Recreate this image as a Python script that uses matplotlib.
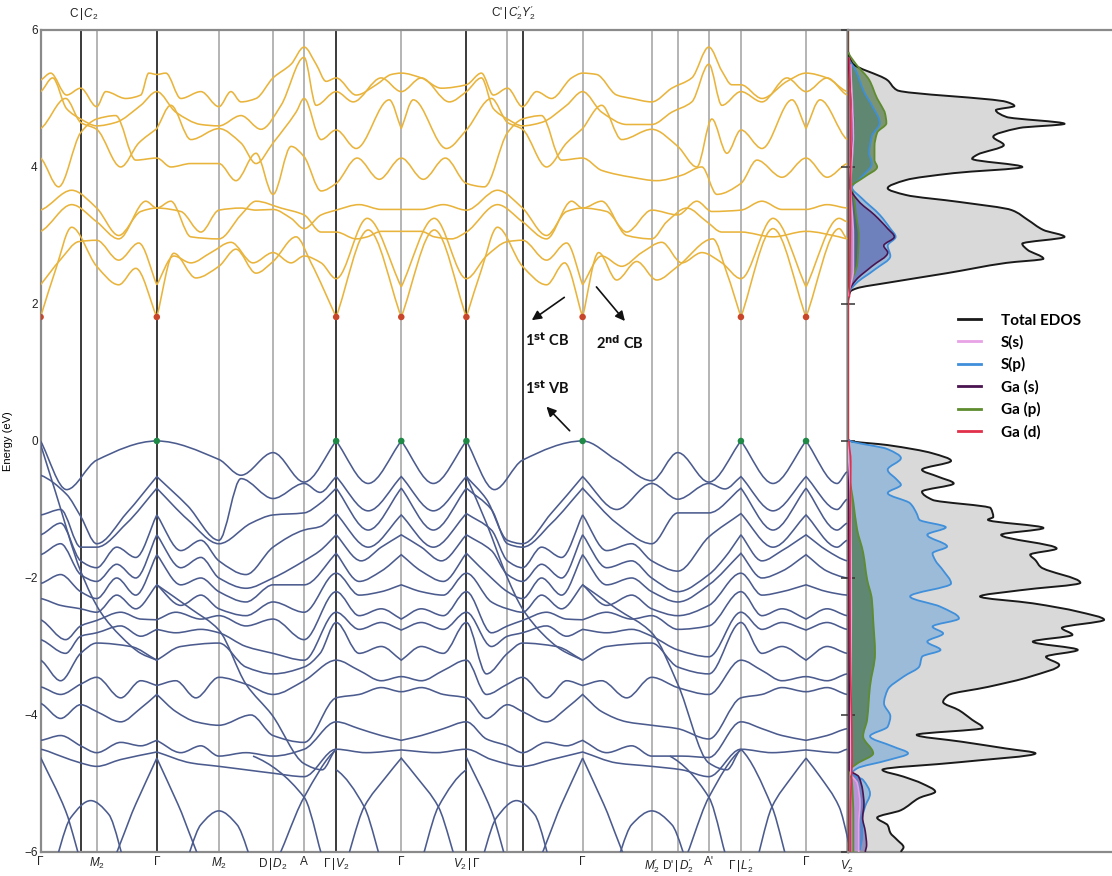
import numpy as np
import matplotlib
matplotlib.use("Agg")
import matplotlib.pyplot as plt
from matplotlib.path import Path
from matplotlib.patches import PathPatch
from matplotlib.lines import Line2D

plt.rcParams['font.family'] = ['Liberation Sans', 'DejaVu Sans']
plt.rcParams['mathtext.fontset'] = 'custom'
plt.rcParams['mathtext.rm'] = 'Liberation Sans'
plt.rcParams['mathtext.it'] = 'Liberation Sans:italic'

# k-path (arbitrary distance units) and high-symmetry labels
tick_k = [0, 40, 56, 116, 178, 232, 263, 295, 360, 425, 466, 481, 541, 610, 636, 667, 699, 764, 805]
dark_lines = [40, 116, 295, 425, 481]
bottom_labels = {0: 'Γ', 56: '$M_2$', 116: 'Γ', 178: '$M_2$', 232: 'D$\\,|\\,D_2$', 263: 'A',
                 295: 'Γ$\\,|\\,V_2$', 360: 'Γ', 425: '$V_2\\,|\\,$Γ', 541: 'Γ', 610: "$M_2'$",
                 636: "D'$\\,|\\,D_2'$", 667: "A'", 699: "Γ$\\,|\\,L_2'$", 764: 'Γ', 805: "$V_2'$"}
top_labels = {43: 'C$\\,|\\,C_2$', 472: "C'$\\,|\\,C_2'$$Y_2'$"}

cbm_k = [0, 116, 295, 360, 425, 541, 699, 764]
vbm_k = [116, 295, 360, 425, 541, 699, 764]
cbm_e = 1.81
vbm_e = 0.0

# conduction bands: (k, E) key points, third entry 1 marks a kink
cb_bands = [
    [(0,1.81,1),(15,2.5),(31,3.12),(56,2.55),(78,2.28),(95,2.52),(116,1.81,1),(133,2.74),(155,2.38),(178,2.55),(195,2.8),(215,2.45),(232,2.62),(255,2.98),(270,2.6),(295,1.81,1),(327,3.08),(360,1.81,1),(393,3.08),(425,1.81,1),(440,2.5),(456,3.12),(481,2.55),(505,2.28),(523,2.6),(541,1.81,1),(557,2.75),(575,2.35),(595,2.62),(615,2.35),(636,2.55),(671,2.95),(685,2.45),(699,1.81,1),(731,3.1),(764,1.81,1),(797,3.1),(805,2.95)],
    [(0,2.28,1),(20,2.65),(38,2.91),(56,2.93),(78,2.64),(98,2.89),(116,2.28,1),(133,2.7),(150,2.6),(170,2.75),(190,2.9),(212,2.6),(232,2.75),(250,2.6),(263,2.7),(280,2.6),(295,2.37),(326,3.25),(360,2.25,1),(393,3.25),(425,2.37),(445,2.7),(466,2.91),(481,2.93),(505,2.64),(525,2.89),(541,2.28,1),(560,2.7),(580,2.55),(600,2.75),(620,2.9),(640,2.6),(660,2.75),(680,2.6),(699,2.37),(731,3.25),(764,2.25,1),(797,3.25),(805,3.2)],
    [(0,3.06),(31,3.45),(56,3.2),(78,2.95),(105,3.5),(116,3.4),(130,3.5),(150,2.98),(178,2.95),(200,3.3),(215,3.5),(240,3.4),(263,3.3),(280,3.05),(295,3.05),(315,2.95),(326,2.98),(340,3.06),(360,3.06),(380,3.06),(393,2.98),(410,2.95),(425,3.05),(456,3.45),(481,3.2),(505,2.95),(530,3.5),(541,3.4),(560,3.5),(585,3.0),(610,2.95),(625,3.2),(645,3.4),(665,3.2),(680,3.05),(699,3.05),(731,2.98),(764,3.06),(797,2.98),(805,2.95)],
    [(0,3.37),(31,3.66),(56,3.4),(78,3.0),(100,3.35),(116,3.4),(140,3.35),(160,3.05),(178,3.37),(200,3.4),(215,3.37),(232,3.38),(250,3.25),(263,3.1),(280,3.3),(295,3.37),(318,3.45),(340,3.38),(360,3.38),(380,3.38),(402,3.45),(425,3.37),(456,3.66),(481,3.4),(505,3.0),(525,3.35),(541,3.4),(565,3.35),(585,3.05),(610,3.37),(636,3.3),(655,3.5),(670,3.35),(699,3.37),(720,3.5),(740,3.38),(764,3.38),(785,3.45),(805,3.4)],
    [(0,4.13),(18,3.71),(40,4.5),(56,4.7),(75,4.75),(95,4.1),(116,4.13),(130,4.0),(150,4.05),(178,4.05),(195,3.8),(215,4.2),(232,3.6),(250,4.3),(263,4.15),(280,3.65),(295,3.76),(316,4.13),(338,3.82),(360,4.13),(382,3.82),(404,4.13),(425,3.76),(443,3.71),(466,4.5),(481,4.7),(500,4.75),(520,4.1),(541,4.13),(560,3.95),(590,3.85),(615,3.8),(640,3.88),(660,4.0),(675,3.6),(699,3.76),(715,4.1),(740,3.85),(764,4.13),(785,3.85),(805,4.05)],
    [(0,4.56),(25,5.0),(40,4.65),(56,4.55),(80,4.0),(98,4.35),(116,4.56,1),(130,4.9),(150,4.4),(178,4.56),(200,4.35),(215,4.05),(232,4.35),(255,4.8),(263,5.0),(280,4.4),(295,4.54),(315,4.27),(348,4.98),(360,4.56,1),(372,4.98),(405,4.27),(425,4.54),(450,5.0),(466,4.65),(481,4.55),(505,4.0),(525,4.35),(541,4.56,1),(560,4.9),(580,4.4),(610,4.55),(636,4.3),(655,4.0),(670,4.7),(685,4.2),(699,4.54),(720,4.27),(750,4.98),(764,4.56,1),(778,4.98),(805,4.4)],
    [(0,5.1),(12,5.3),(26,4.85),(40,4.7),(56,4.6),(75,4.65),(100,4.9),(116,5.1),(135,4.8),(160,4.62),(178,4.6),(200,4.75),(220,4.55),(240,4.9),(263,5.6),(275,4.9),(295,5.1),(312,4.95),(340,5.3),(360,5.1),(380,5.3),(408,4.95),(425,5.1),(440,5.3),(452,4.85),(466,4.7),(481,4.6),(500,4.65),(525,4.9),(541,5.1),(560,4.8),(585,4.62),(610,4.62),(630,4.8),(650,4.95),(667,5.5),(680,4.9),(699,5.1),(720,4.95),(745,5.3),(764,5.1),(785,5.3),(805,5.05)],
    [(0,5.27),(10,5.37),(26,5.05),(40,5.15),(56,4.88),(65,5.1),(85,5.0),(100,5.05),(108,5.37),(116,5.35),(125,5.37),(140,5.0),(160,5.1),(178,4.88),(190,5.1),(200,4.95),(215,5.0),(232,5.3),(250,5.5),(263,5.75),(275,5.5),(285,5.25),(295,5.3),(315,5.05),(335,5.2),(350,5.35),(360,5.37),(380,5.3),(400,5.15),(425,5.2),(440,5.37),(452,5.05),(466,5.15),(481,4.88),(495,5.1),(510,5.0),(530,5.3),(541,5.37),(555,5.35),(575,5.05),(590,5.0),(610,4.95),(630,5.15),(650,5.3),(667,5.75),(680,5.4),(690,5.2),(699,5.2),(720,5.0),(745,5.25),(764,5.37),(785,5.3),(805,5.1)],
]

# valence bands
vb_bands = [
    [(0,0,1),(26,-0.71),(56,-0.28),(116,0),(178,-0.27),(200,-0.5),(232,-0.17),(263,-0.6),(295,0,1),(327,-0.62),(360,0,1),(392,-0.62),(425,0,1),(453,-0.71),(481,-0.28),(541,0),(575,-0.28),(610,-0.58),(636,-0.17),(667,-0.6),(699,0,1),(731,-0.62),(764,0,1),(795,-0.62),(805,-0.45)],
    [(0,-0.5),(26,-0.78),(40,-1.1),(56,-1.5),(86,-1.05),(116,-0.52,1),(147,-0.95),(178,-1.45),(200,-0.55),(232,-0.84),(263,-0.62),(279,-0.75),(295,-0.52,1),(327,-1.02),(360,-0.52,1),(392,-1.02),(425,-0.52,1),(445,-0.85),(466,-1.45),(481,-1.5),(510,-1.05),(541,-0.52,1),(575,-1.0),(610,-0.62),(636,-0.85),(667,-0.62),(683,-0.7),(699,-0.52,1),(731,-1.02),(764,-0.52,1),(795,-1.0),(805,-0.85)],
    [(0,-1.08),(20,-1.0),(40,-1.55),(56,-1.55),(86,-1.2),(116,-0.69,1),(147,-1.15),(178,-1.5),(210,-1.2),(232,-1.08),(263,-1.05),(280,-0.9),(295,-0.69,1),(327,-1.3),(360,-0.69,1),(392,-1.3),(425,-0.69,1),(450,-1.0),(466,-1.5),(481,-1.55),(510,-1.2),(541,-0.69,1),(575,-1.2),(610,-1.5),(636,-1.05),(667,-1.05),(699,-0.69,1),(731,-1.3),(764,-0.69,1),(795,-1.3),(805,-1.2)],
    [(0,-1.37),(20,-1.2),(40,-1.75),(56,-1.85),(76,-1.55),(95,-1.7),(116,-1.08,1),(140,-1.6),(160,-1.45),(178,-1.75),(205,-1.95),(232,-1.55),(263,-1.3),(279,-1.25),(295,-1.06,1),(327,-1.55),(360,-1.08,1),(392,-1.55),(425,-1.06,1),(450,-1.3),(466,-1.75),(481,-1.85),(500,-1.55),(520,-1.7),(541,-1.08,1),(565,-1.6),(590,-1.5),(610,-1.75),(636,-1.9),(667,-1.4),(699,-1.06,1),(731,-1.55),(764,-1.08,1),(795,-1.55),(805,-1.45)],
    [(0,-1.66),(20,-1.5),(40,-1.95),(56,-2.05),(76,-1.8),(95,-2.0),(116,-1.37,1),(140,-1.85),(160,-1.7),(178,-2.0),(205,-2.15),(232,-2.0),(263,-1.75),(279,-1.6),(295,-1.37,1),(320,-1.75),(340,-1.55),(360,-1.37,1),(380,-1.55),(400,-1.75),(425,-1.37,1),(450,-1.6),(466,-1.95),(481,-2.05),(500,-1.8),(520,-2.0),(541,-1.37,1),(565,-1.85),(590,-1.75),(610,-2.0),(636,-2.2),(667,-1.95),(683,-1.7),(699,-1.37,1),(720,-1.75),(740,-1.6),(764,-1.37,1),(785,-1.6),(805,-1.75)],
    [(0,-2.08),(20,-1.95),(40,-2.2),(56,-2.3),(76,-2.0),(95,-2.25),(116,-1.66,1),(140,-2.1),(160,-2.0),(178,-2.2),(205,-2.35),(232,-2.1),(263,-2.1),(295,-1.64,1),(318,-2.05),(340,-1.9),(360,-1.66,1),(380,-1.9),(402,-2.05),(425,-1.64,1),(450,-2.0),(466,-2.2),(481,-2.3),(500,-2.0),(520,-2.25),(541,-1.66,1),(565,-2.1),(590,-2.0),(610,-2.2),(636,-2.35),(667,-2.1),(699,-1.64,1),(720,-2.0),(740,-1.9),(764,-1.66,1),(785,-1.9),(805,-2.0)],
    [(0,-2.3),(20,-2.4),(40,-2.45),(56,-2.5),(76,-2.25),(95,-2.45),(116,-2.1,1),(140,-2.4),(160,-2.25),(178,-2.45),(205,-2.55),(232,-2.35),(263,-2.5),(295,-1.93),(318,-2.25),(340,-2.2),(360,-2.1,1),(380,-2.2),(402,-2.25),(425,-1.93),(450,-2.35),(466,-2.45),(481,-2.5),(500,-2.25),(520,-2.45),(541,-2.1,1),(565,-2.4),(590,-2.25),(610,-2.45),(636,-2.55),(667,-2.4),(699,-1.93),(720,-2.25),(740,-2.2),(764,-2.1,1),(785,-2.2),(805,-2.25)],
    [(0,-2.61),(25,-2.9),(40,-2.7),(56,-2.62),(80,-2.5),(100,-2.6),(116,-2.61,1),(135,-2.5),(160,-2.6),(178,-2.55),(205,-2.7),(232,-2.6),(263,-2.9),(295,-2.2),(318,-2.55),(340,-2.45),(360,-2.6,1),(380,-2.45),(402,-2.55),(425,-2.2),(450,-2.8),(466,-2.7),(481,-2.62),(505,-2.5),(525,-2.6),(541,-2.61,1),(565,-2.5),(590,-2.6),(610,-2.55),(636,-2.75),(667,-2.7),(699,-2.2),(720,-2.55),(740,-2.45),(764,-2.6,1),(785,-2.45),(805,-2.55)],
    [(0,-2.9),(25,-3.1),(40,-2.85),(56,-2.8),(80,-2.7),(100,-2.85),(116,-2.75,1),(135,-2.8),(160,-2.75),(178,-2.8),(205,-3.0),(232,-3.1),(263,-3.2),(295,-2.5),(318,-2.75),(340,-2.65),(360,-2.76,1),(380,-2.65),(402,-2.75),(425,-2.5),(450,-3.0),(466,-2.85),(481,-2.8),(505,-2.7),(525,-2.85),(541,-2.75,1),(565,-2.8),(590,-2.75),(610,-2.85),(636,-3.05),(667,-3.15),(699,-2.5),(720,-2.75),(740,-2.65),(764,-2.76,1),(785,-2.65),(805,-2.75)],
    [(0,-3.2),(20,-3.5),(40,-3.1),(56,-2.95),(90,-3.0),(116,-3.2,1),(140,-3.0),(178,-2.95),(205,-3.3),(232,-3.4),(263,-3.3),(279,-3.1),(295,-2.65),(318,-3.1),(340,-3.0),(360,-3.2,1),(380,-3.0),(402,-3.1),(425,-2.65),(445,-3.4),(466,-3.1),(481,-2.95),(515,-3.0),(541,-3.2,1),(565,-3.0),(610,-2.95),(636,-3.3),(667,-3.4),(699,-2.65),(720,-3.1),(740,-3.0),(764,-3.2,1),(785,-3.0),(805,-3.1)],
    [(0,-3.59),(20,-3.7),(40,-3.55),(56,-3.45),(80,-3.75),(100,-3.5),(116,-3.57,1),(135,-3.5),(155,-3.75),(178,-3.45),(205,-3.55),(232,-3.7),(263,-3.5),(295,-3.2),(318,-3.35),(340,-3.5),(360,-3.44),(380,-3.5),(402,-3.35),(425,-3.2),(445,-3.7),(466,-3.55),(481,-3.45),(505,-3.75),(525,-3.5),(541,-3.57,1),(560,-3.5),(585,-3.75),(610,-3.45),(636,-3.6),(667,-3.7),(699,-3.2),(720,-3.35),(740,-3.5),(764,-3.44),(785,-3.5),(805,-3.4)],
    [(0,-3.83),(20,-4.05),(40,-3.85),(56,-3.95),(80,-4.1),(100,-3.9),(116,-3.7,1),(135,-3.95),(155,-4.1),(178,-4.15),(210,-4.0),(232,-4.3),(263,-4.4),(295,-3.75),(318,-3.7),(340,-3.6),(360,-3.66),(380,-3.6),(402,-3.7),(425,-3.75),(445,-4.05),(466,-3.85),(481,-3.95),(505,-4.1),(525,-3.9),(541,-3.7,1),(560,-3.95),(585,-4.1),(610,-4.15),(636,-4.2),(667,-4.35),(699,-3.75),(720,-3.7),(740,-3.6),(764,-3.66),(785,-3.6),(805,-3.7)],
    [(0,-4.37),(20,-4.3),(40,-4.45),(56,-4.55),(80,-4.4),(100,-4.45),(116,-4.37,1),(140,-4.55),(160,-4.45),(178,-4.6),(205,-4.55),(232,-4.6),(263,-4.5),(295,-4.1),(318,-4.2),(340,-4.3),(360,-4.37,1),(380,-4.3),(402,-4.2),(425,-4.1),(445,-4.35),(466,-4.45),(481,-4.55),(505,-4.4),(525,-4.45),(541,-4.37,1),(565,-4.55),(590,-4.45),(610,-4.6),(640,-4.6),(667,-4.62),(699,-4.1),(720,-4.2),(740,-4.3),(764,-4.37,1),(785,-4.3),(805,-4.2)],
    [(0,-4.5),(20,-4.6),(40,-4.7),(56,-4.75),(80,-4.65),(116,-4.54,1),(150,-4.7),(178,-4.75),(205,-4.8),(232,-4.85),(263,-4.9),(295,-4.5),(325,-4.55),(360,-4.51,1),(395,-4.55),(425,-4.5),(450,-4.65),(481,-4.75),(510,-4.65),(541,-4.54,1),(575,-4.7),(610,-4.75),(640,-4.8),(667,-4.9),(699,-4.5),(730,-4.55),(764,-4.51,1),(795,-4.55),(805,-4.5)],
    # steep crossing bands
    [(0,-0.05,1),(15,-0.75),(40,-1.9),(60,-2.5),(80,-2.85),(100,-3.1),(116,-3.2,1)],
    [(425,-0.52,1),(445,-1.2),(466,-2.0),(481,-2.45),(500,-2.8),(520,-3.05),(541,-3.2,1)],
    [(116,-2.1,1),(150,-2.45),(178,-2.76),(205,-3.55),(231,-4.0),(263,-4.71),(281,-4.8),(295,-4.5)],
    [(541,-2.1,1),(575,-2.45),(610,-2.8),(636,-3.55),(667,-4.7),(685,-4.8),(699,-4.5)],
    # lower bands
    [(0,-4.62,1),(25,-5.4),(45,-6.3)],
    [(10,-6.3),(30,-5.5),(50,-5.25),(68,-5.45),(88,-6.3)],
    [(65,-6.3),(95,-5.3),(116,-4.63,1),(137,-5.3),(167,-6.3)],
    [(140,-6.3),(160,-5.6),(178,-5.4),(196,-5.6),(216,-6.3)],
    [(228,-6.3),(263,-5.2),(295,-4.51)],
    [(212,-4.6),(263,-5.2),(287,-6.3)],
    [(295,-4.8),(323,-5.34),(345,-6.3)],
    [(300,-6.3),(323,-5.34),(345,-4.9),(360,-4.63,1),(375,-4.9),(397,-5.34),(420,-6.3)],
    [(375,-6.3),(397,-5.34),(425,-4.8)],
    [(425,-4.62,1),(450,-5.4),(470,-6.3)],
    [(435,-6.3),(455,-5.5),(475,-5.25),(493,-5.45),(513,-6.3)],
    [(490,-6.3),(520,-5.3),(541,-4.63,1),(562,-5.3),(592,-6.3)],
    [(570,-6.3),(590,-5.6),(610,-5.4),(630,-5.6),(650,-6.3)],
    [(636,-6.3),(667,-5.2),(699,-4.51)],
    [(628,-4.6),(667,-5.2),(690,-6.3)],
    [(699,-4.5),(730,-5.34),(750,-6.3)],
    [(710,-6.3),(730,-5.34),(750,-4.9),(764,-4.63,1),(778,-4.9),(797,-5.34),(815,-6.3)],
]

# partial density of states (arbitrary units)
tot_e = [5.68,5.52,5.27,5.12,4.95,4.89,4.83,4.73,4.63,4.57,4.44,4.32,4.18,4.12,4.0,3.91,3.81,3.69,3.59,3.49,3.37,3.23,3.08,2.98,2.88,2.79,2.66,2.6,2.45,2.31,2.23,2.18,2.05,
         0.02,0.0,-0.06,-0.18,-0.29,-0.42,-0.52,-0.62,-0.74,-0.86,-0.98,-1.11,-1.15,-1.27,-1.37,-1.57,-1.66,-1.74,-1.84,-2.07,-2.18,-2.27,-2.37,-2.49,-2.61,-2.73,-2.83,-2.93,-3.05,-3.15,-3.27,-3.44,-3.59,-3.71,-3.81,-3.93,-4.07,-4.19,-4.29,-4.39,-4.49,-4.56,-4.69,-4.8,-4.9,-5.0,-5.12,-5.21,-5.39,-5.5,-5.61,-5.72,-5.82,-5.93,-6.0]
tot_d = [0,1.5,14.8,18.6,60,63,56,60,82,65,55,59,49,47,66,40,22,15,22,42,62,68,74,82,66,68,74,60,37.5,15,3.4,0.8,0,
         0,0.8,15,32,39,28,34,40,28,32,54,55,53,74,58,79,69,71,73,88,65,50,70,87,97,81,85,70,87,75,80,69,53,38,36,42,47,51,26,43,60,71,42,13,21,28,33,27,20,11,15,16,18.5,21,20]
sp_e = [5.6,5.4,5.1,4.9,4.64,4.45,4.2,4.05,3.85,3.7,3.55,3.3,3.1,2.98,2.85,2.7,2.5,2.3,2.15,
        0.02,0.0,-0.12,-0.25,-0.42,-0.57,-0.64,-0.76,-0.91,-1.06,-1.15,-1.26,-1.37,-1.54,-1.64,-1.74,-1.89,-2.08,-2.27,-2.42,-2.59,-2.71,-2.81,-2.93,-3.05,-3.15,-3.29,-3.44,-3.63,-3.83,-4.02,-4.17,-4.31,-4.46,-4.56,-4.66,-4.78,-4.85,-4.95,-5.15,-5.34,-5.53,-5.77,-5.97]
sp_d = [0,3,6,9,12,9,8,9,5,1.5,5,12,16,18,15,16,10,3,0,
        0,0.8,15,20,15,18.6,20,15,23.5,26,27,37,30,37.5,32,33,36,39,23.5,35,42,32,36,30,35,28,27,21,15,13.6,16,15,8.3,17,22.7,15,3.4,1.5,5.7,8.3,6.4,5.3,5.3,4.5]
gap_e = [5.68,5.5,5.27,5.0,4.9,4.78,4.64,4.5,4.3,4.1,4.0,3.85,3.7,3.6,3.3,3.0,2.6,2.3,2.15,
         0.0,-0.5,-0.9,-1.29,-1.63,-2.02,-2.31,-2.61,-3.1,-3.58,-4.07,-4.31,-4.56,-4.71,-4.8,-5.0,-5.5,-6.0]
gap_d = [0,3,8,11,12.5,14,14.5,11,10,10,11,6,1,2,3,4,3.5,1,0,
         0,0.5,2,3.4,5.7,7.2,9,9.5,10.2,8.3,7.2,5.7,9.5,3.4,0.8,1.5,2,2]
gas_e = [5.6,4.6,3.7,3.5,3.3,3.1,2.98,2.85,2.75,2.55,2.35,2.2,2.1,
         0.0,-2.0,-4.7,-4.8,-4.9,-5.1,-5.3,-5.5,-5.7,-5.9,-6.0]
gas_d = [0,2,0.8,4,10,15,17.5,13.5,15,9,3,0.5,0,
         0,0.4,0.5,0.5,4,5.5,6,5.5,6.5,7,6.5]
ss_e = [5.5,4.5,3.7,3.0,2.5,2.2,2.1, 0.0,-1.0,-2.5,-4.0,-4.7,-4.85,-5.0,-5.3,-5.6,-6.0]
ss_d = [1,2,1,2,2,0.5,0, 0,1,1.2,1,1,1,3.5,4.5,4,4]
gad_e = [5.6,4.6,3.0,2.1, 0.0,-0.3,-1.5,-3.0,-4.6,-5.5,-6.0]
gad_d = [0.5,1,0.8,0.5, 0.3,1,0.7,0.8,1.5,0.8,0.8]

c_cb = '#E9B43C'
c_vb = '#4B5B8E'
c_tot = '#1a1a1a'
c_ss = '#E8A2E6'
c_sp = '#3F8FDB'
c_gas = '#4A1450'
c_gap = '#5E8C2E'
c_gad = '#E0304A'


def hermite(t, v, kink=None):
    """Bezier control points of a shape-preserving cubic through (t, v)."""
    t = np.asarray(t, float)
    v = np.asarray(v, float)
    n = len(t)
    if kink is None:
        kink = [False] * n
    sec = np.diff(v) / np.diff(t)
    ml = np.zeros(n)
    mr = np.zeros(n)
    for i in range(n):
        if i == 0:
            ml[i] = mr[i] = sec[0] * (1.0 if kink[i] else 0.5)
        elif i == n - 1:
            ml[i] = mr[i] = sec[-1] * (1.0 if kink[i] else 0.5)
        elif kink[i]:
            ml[i], mr[i] = sec[i - 1], sec[i]
        else:
            a, b = sec[i - 1], sec[i]
            ml[i] = mr[i] = 0.0 if a * b <= 0 else 2 * a * b / (a + b)
    verts = [(t[0], v[0])]
    for i in range(n - 1):
        d = (t[i + 1] - t[i]) / 3.0
        verts += [(t[i] + d, v[i] + mr[i] * d), (t[i + 1] - d, v[i + 1] - ml[i + 1] * d), (t[i + 1], v[i + 1])]
    return verts


def band_patch(pts, color):
    verts = hermite([p[0] for p in pts], [p[1] for p in pts], [len(p) > 2 for p in pts])
    codes = [Path.MOVETO] + [Path.CURVE4] * (len(verts) - 1)
    return PathPatch(Path(verts, codes), fill=False, edgecolor=color, lw=1.15, zorder=3)


def dos_paths(e, d):
    """Smooth outline and filled area of one DOS curve, split at the gap."""
    e = np.asarray(e, float)
    d = np.asarray(d, float)
    lines, areas = [], []
    for sel in (e > 1.0, e <= 1.0):
        es, ds = e[sel], d[sel]
        verts = [(dv, -tv) for tv, dv in hermite(-es, ds)]
        codes = [Path.MOVETO] + [Path.CURVE4] * (len(verts) - 1)
        lines.append(Path(verts, codes))
        fverts = verts + [(0, es[-1]), (0, es[0]), verts[0]]
        fcodes = codes + [Path.LINETO, Path.LINETO, Path.CLOSEPOLY]
        areas.append(Path(fverts, fcodes))
    return lines, areas


fig = plt.figure(figsize=(11.12, 8.76), dpi=100)
ax = fig.add_axes([0.0365, 0.0274, 0.7262, 0.9384])
axd = fig.add_axes([0.7627, 0.0274, 0.2373, 0.9384])

for kt in tick_k:
    dark = kt in dark_lines
    ax.axvline(kt, color='#3a3a3a' if dark else '#a0a0a0', lw=1.4 if dark else 1.1, zorder=1)

for b in cb_bands:
    ax.add_patch(band_patch(b, c_cb))
for b in vb_bands:
    ax.add_patch(band_patch(b, c_vb))

ax.scatter(cbm_k, [cbm_e] * len(cbm_k), s=22, color='#C8452A', zorder=5, edgecolors='none')
ax.scatter(vbm_k, [vbm_e] * len(vbm_k), s=22, color='#1E8A46', zorder=5, edgecolors='none')

ax.set_xlim(0, 806)
ax.set_ylim(-6, 6)
ax.set_yticks([-6, -4, -2, 0, 2, 4, 6])
ax.set_yticklabels(['−6', '−4', '−2', '0', '2', '4', '6'])
ax.set_xticks(list(bottom_labels.keys()))
ax.set_xticklabels(list(bottom_labels.values()))
ax.tick_params(axis='both', length=0, labelsize=8.5, colors='#222222', pad=3)
ax.tick_params(axis='y', pad=2)
for kt, lab in top_labels.items():
    ax.text(kt, 6.12, lab, ha='center', va='bottom', fontsize=8.5, color='#222222')
ax.set_ylabel('Energy (eV)', fontsize=8, labelpad=8)
for s in ax.spines.values():
    s.set_color('#8a8a8a')
    s.set_linewidth(1.6)

# arrows marking band edges
ann = dict(arrowstyle='-|>', color='#111111', lw=1.2, mutation_scale=14)
ax.annotate('', xy=(488, 1.74), xytext=(525, 2.12), arrowprops=ann)
ax.annotate('', xy=(585, 1.72), xytext=(553, 2.28), arrowprops=ann)
ax.annotate('', xy=(503, 0.53), xytext=(530, 0.12), arrowprops=ann)
tf = dict(fontsize=10.5, fontweight='bold', family=['Lato', 'DejaVu Sans'], ha='center', va='center', color='#111111')
ax.text(506, 1.47, '1$^{\\mathbf{st}}$ CB', **tf)
ax.text(578, 1.43, '2$^{\\mathbf{nd}}$ CB', **tf)
ax.text(506, 0.77, '1$^{\\mathbf{st}}$ VB', **tf)

# density of states panel
dos_curves = [
    (tot_e, tot_d, c_tot, '#d9d9d9', 1.0, 1.4),
    (sp_e, sp_d, c_sp, c_sp, 0.4, 1.3),
    (gap_e, gap_d, c_gap, '#2f5d1e', 0.55, 1.3),
    (gas_e, gas_d, c_gas, '#3b3b9a', 0.45, 1.2),
    (ss_e, ss_d, c_ss, c_ss, 0.6, 1.2),
]
for z, (e, d, lc, fc, fa, lw) in enumerate(dos_curves):
    lines, areas = dos_paths(e, d)
    for p in areas:
        axd.add_patch(PathPatch(p, facecolor=fc, alpha=fa, lw=0, zorder=1 + z * 0.1))
    for p in lines:
        axd.add_patch(PathPatch(p, fill=False, edgecolor=lc, lw=lw, zorder=5))
for p in dos_paths(gad_e, gad_d)[0]:
    axd.add_patch(PathPatch(p, fill=False, edgecolor=c_gad, lw=1.2, zorder=6))
axd.plot([0, 0], [0.0, 2.1], color=c_gad, lw=1.2, zorder=6)

axd.set_xlim(0, 100)
axd.set_ylim(-6, 6)
axd.set_xticks([])
axd.set_yticks([-6, -4, -2, 0, 2, 4, 6])
axd.set_yticklabels([])
axd.tick_params(axis='y', direction='inout', length=10, width=1.1, color='#333333')
axd.spines['right'].set_visible(False)
axd.spines['left'].set_color('#6b4a3a')
axd.spines['left'].set_linewidth(1.0)
for s in ('top', 'bottom'):
    axd.spines[s].set_color('#8a8a8a')
    axd.spines[s].set_linewidth(1.6)

handles = [Line2D([], [], color=c, lw=2) for c in (c_tot, c_ss, c_sp, c_gas, c_gap, c_gad)]
labels = ['Total EDOS', 'S(s)', 'S(p)', 'Ga (s)', 'Ga (p)', 'Ga (d)']
fig.legend(handles, labels, loc='upper left', bbox_to_anchor=(0.856, 0.649), frameon=False,
           prop={'family': ['Lato', 'DejaVu Sans'], 'weight': 'bold', 'size': 11},
           handlelength=1.5, labelspacing=0.5, handletextpad=1.3, borderaxespad=0)

fig.savefig('out.png', dpi=100)
